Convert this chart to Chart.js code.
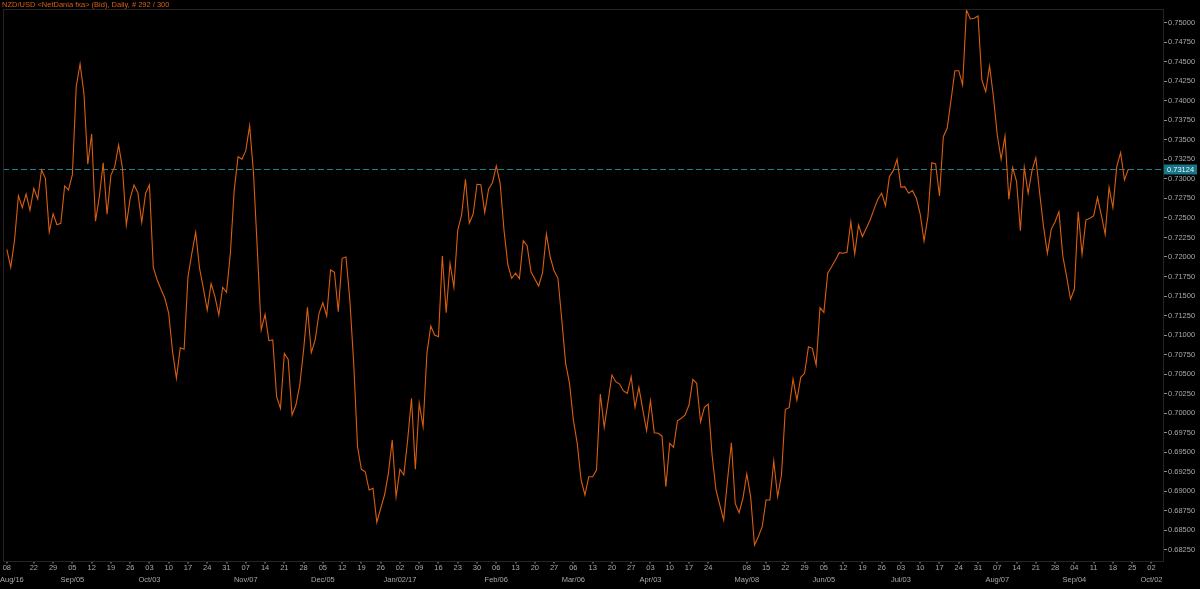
<!DOCTYPE html>
<html>
<head>
<meta charset="utf-8">
<script src="https://cdn.jsdelivr.net/npm/chart.js@4/dist/chart.umd.min.js"></script>
<style>
html,body{margin:0;padding:0;background:#000;}
#wrap{width:1200px;height:589px;position:relative;}
</style>
</head>
<body>
<div id="wrap"><canvas id="c" width="1200" height="589"></canvas></div>
<script>
// ---- data ----
const titleText = "NZD/USD <NetDania fxa> (Bid), Daily, # 292 / 300";
const currentBid = 0.73124;
// daily bid closes, one per trading day starting Thu 2016-08-11
const bid = [
0.72098,0.71868,0.72217,0.72785,0.72631,0.72806,0.72598,0.72879,0.72742,0.73114,
0.73007,0.72320,0.72554,0.72413,0.72431,0.72909,0.72858,0.73054,0.74180,0.74471,
0.74096,0.73187,0.73575,0.72457,0.72772,0.73207,0.72546,0.73046,0.73156,0.73434,
0.73135,0.72409,0.72751,0.72922,0.72823,0.72444,0.72815,0.72925,0.71868,0.71705,
0.71586,0.71471,0.71279,0.70787,0.70446,0.70838,0.70818,0.71747,0.72047,0.72316,
0.71855,0.71599,0.71321,0.71658,0.71491,0.71257,0.71612,0.71547,0.72047,0.72858,
0.73284,0.73251,0.73361,0.73681,0.73071,0.72089,0.71065,0.71266,0.70928,0.70937,
0.70211,0.70062,0.70766,0.70689,0.69976,0.70104,0.70360,0.70809,0.71355,0.70774,
0.70937,0.71279,0.71414,0.71244,0.71833,0.71804,0.71299,0.71983,0.72000,0.71449,
0.70638,0.69570,0.69281,0.69250,0.69016,0.69038,0.68602,0.68781,0.68952,0.69230,
0.69656,0.68930,0.69281,0.69208,0.69656,0.70190,0.69281,0.70126,0.69826,0.70766,
0.71116,0.71001,0.70979,0.72012,0.71286,0.71919,0.71612,0.72345,0.72537,0.72995,
0.72431,0.72550,0.72931,0.72925,0.72567,0.72867,0.72951,0.73165,0.72943,0.72345,
0.71897,0.71727,0.71791,0.71722,0.72208,0.72144,0.71811,0.71718,0.71628,0.71798,
0.72294,0.71996,0.71824,0.71727,0.71193,0.70638,0.70382,0.69912,0.69614,0.69144,
0.68952,0.69186,0.69186,0.69272,0.70245,0.69819,0.70147,0.70488,0.70403,0.70373,
0.70284,0.70254,0.70467,0.70075,0.70331,0.70049,0.69775,0.70159,0.69750,0.69742,
0.69707,0.69058,0.69614,0.69563,0.69903,0.69934,0.69976,0.70104,0.70433,0.70382,
0.69887,0.70075,0.70117,0.69464,0.69016,0.68824,0.68632,0.69144,0.69621,0.68845,
0.68725,0.68909,0.69221,0.68930,0.68311,0.68418,0.68546,0.68888,0.68888,0.69387,
0.68930,0.69208,0.70049,0.70070,0.70437,0.70168,0.70459,0.70510,0.70851,0.70830,
0.70617,0.71350,0.71291,0.71791,0.71875,0.71961,0.72055,0.72047,0.72060,0.72452,
0.72038,0.72409,0.72260,0.72367,0.72473,0.72610,0.72738,0.72815,0.72657,0.73028,
0.73105,0.73251,0.72892,0.72900,0.72815,0.72849,0.72751,0.72550,0.72204,0.72516,
0.73207,0.73191,0.72781,0.73540,0.73648,0.74010,0.74385,0.74385,0.74202,0.75163,
0.75047,0.75056,0.75086,0.74266,0.74116,0.74445,0.74052,0.73562,0.73251,0.73549,
0.72738,0.73143,0.72964,0.72336,0.73148,0.72815,0.73105,0.73271,0.72815,0.72388,
0.72047,0.72354,0.72452,0.72580,0.72012,0.71747,0.71458,0.71586,0.72580,0.72034,
0.72473,0.72495,0.72525,0.72764,0.72537,0.72290,0.72892,0.72631,0.73156,0.73335,
0.72986,0.73124
];
// weekly ticks (trading-day index), day labels and month labels
const tickIndex = [0,7,12,17,22,27,32,37,42,47,52,57,62,67,72,77,82,87,92,97,102,107,112,117,122,127,132,137,142,147,152,157,162,167,172,177,182,192,197,202,207,212,217,222,227,232,237,242,247,252,257,262,267,272,277,282,287,292,297];
const tickDay = ["08","22","29","05","12","19","26","03","10","17","24","31","07","14","21","28","05","12","19","26","02","09","16","23","30","06","13","20","27","06","13","20","27","03","10","17","24","08","15","22","29","05","12","19","26","03","10","17","24","31","07","14","21","28","04","11","18","25","02"];
const tickMonth = ["Aug/16","","","Sep/05","","","","Oct/03","","","","","Nov/07","","","","Dec/05","","","","Jan/02/17","","","","","Feb/06","","","","Mar/06","","","","Apr/03","","","","May/08","","","","Jun/05","","","","Jul/03","","","","","Aug/07","","","","Sep/04","","","","Oct/02"];
const yTicks = [0.6825,0.685,0.6875,0.69,0.6925,0.695,0.6975,0.70,0.7025,0.705,0.7075,0.71,0.7125,0.715,0.7175,0.72,0.7225,0.725,0.7275,0.73,0.7325,0.735,0.7375,0.74,0.7425,0.745,0.7475,0.75];

// ---- chart ----
const FONT = '"Liberation Sans", Arial, sans-serif';
const ORANGE = 'rgb(218,94,16)';
const TEAL = 'rgb(26,128,142)';

const overlay = {
  id: 'overlay',
  beforeDraw(chart) {
    const ctx = chart.ctx;
    ctx.save();
    ctx.fillStyle = '#000';
    ctx.fillRect(0, 0, chart.width, chart.height);
    ctx.restore();
  },
  beforeDatasetsDraw(chart) {
    const ctx = chart.ctx, a = chart.chartArea, ys = chart.scales.y;
    const py = Math.round(ys.getPixelForValue(currentBid)) + 0.5;
    ctx.save();
    ctx.strokeStyle = TEAL;
    ctx.lineWidth = 1;
    ctx.setLineDash([6, 3]);
    ctx.beginPath();
    ctx.moveTo(a.left, py);
    ctx.lineTo(a.right, py);
    ctx.stroke();
    ctx.restore();
  },
  afterDraw(chart) {
    const ctx = chart.ctx, a = chart.chartArea, xs = chart.scales.x, ys = chart.scales.y;
    ctx.save();
    // frame
    ctx.strokeStyle = '#242424';
    ctx.lineWidth = 1;
    ctx.strokeRect(Math.round(a.left) + 0.5, Math.round(a.top) + 0.5, Math.round(a.right - a.left), Math.round(a.bottom - a.top));
    // title
    ctx.fillStyle = ORANGE;
    ctx.font = '7.5px ' + FONT;
    ctx.textBaseline = 'middle';
    ctx.textAlign = 'left';
    ctx.fillText(titleText, 2, 5);
    // x labels
    ctx.fillStyle = '#a8a8a8';
    ctx.textAlign = 'left';
    for (let k = 0; k < tickIndex.length; k++) {
      const px = xs.getPixelForValue(tickIndex[k]);
      ctx.fillRect(Math.round(px) - 0.5, a.bottom + 1, 1, 1.5);
      let w = ctx.measureText(tickDay[k]).width;
      let lx = Math.max(1, px - w / 2);
      ctx.fillText(tickDay[k], lx, a.bottom + 6.5);
      if (tickMonth[k]) {
        w = ctx.measureText(tickMonth[k]).width;
        lx = Math.min(chart.width - w - 1, Math.max(0, px - w / 2));
        ctx.fillText(tickMonth[k], lx, a.bottom + 18.5);
      }
    }
    // current price box
    const py = ys.getPixelForValue(currentBid);
    ctx.fillStyle = 'rgb(22,118,136)';
    ctx.fillRect(a.right + 1, Math.round(py) - 4.5, 33, 10);
    ctx.fillStyle = '#e8f4f6';
    ctx.textAlign = 'left';
    ctx.fillText(currentBid.toFixed(5), a.right + 4, Math.round(py) + 0.5);
    ctx.restore();
  }
};

new Chart(document.getElementById('c'), {
  type: 'line',
  data: {
    datasets: [{
      data: bid.map((v, i) => ({ x: i, y: v })),
      borderColor: ORANGE,
      borderWidth: 1.1,
      pointRadius: 0,
      tension: 0,
      fill: false
    }]
  },
  options: {
    responsive: false,
    animation: false,
    devicePixelRatio: 1,
    layout: { padding: { left: 3, top: 9, bottom: 28, right: 0 } },
    plugins: { legend: { display: false }, tooltip: { enabled: false } },
    scales: {
      x: {
        type: 'linear',
        min: -1,
        max: 300,
        display: false
      },
      y: {
        type: 'linear',
        position: 'right',
        min: 0.68107,
        max: 0.75175,
        afterBuildTicks(scale) { scale.ticks = yTicks.map(v => ({ value: v })); },
        afterFit(scale) { scale.width = 37; },
        ticks: {
          color: '#a8a8a8',
          font: { family: FONT, size: 7.5 },
          padding: 1,
          autoSkip: false,
          callback: v => Number(v).toFixed(5)
        },
        grid: { drawOnChartArea: false, drawTicks: true, tickLength: 4, tickColor: '#8a8a8a' },
        border: { display: false }
      }
    }
  },
  plugins: [overlay]
});
</script>
</body>
</html>
